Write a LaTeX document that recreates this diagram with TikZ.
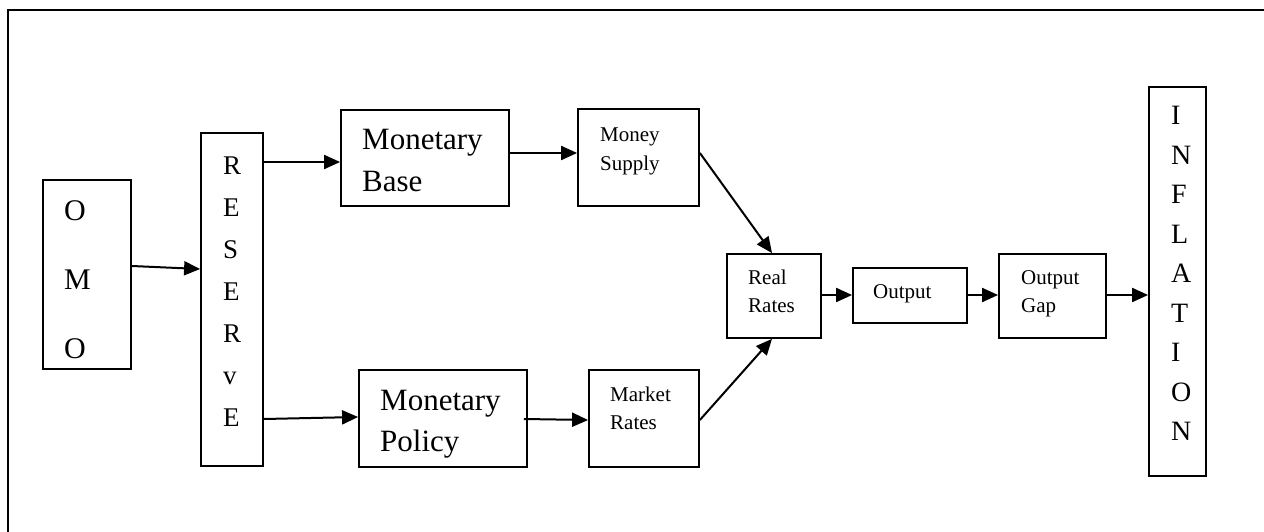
\documentclass[tikz,border=0pt]{standalone}
\usepackage{fontspec}
\setmainfont{Liberation Serif}
\usetikzlibrary{arrows.meta}
\tikzset{
  box/.style={draw, line width=1.8pt, inner sep=0pt},
  txt/.style={anchor=north west, inner sep=0pt, align=left},
  big/.style={txt, font=\fontsize{31}{41.7}\selectfont},
  small/.style={txt, font=\fontsize{21}{28.5}\selectfont},
  arr/.style={line width=2pt, -{Triangle[length=16pt,width=14pt]}}
}
\begin{document}
\begin{tikzpicture}[x=1pt,y=-1pt]
\useasboundingbox (0,0) rectangle (1264,532);
\begin{scope}
  \clip (0,0) rectangle (1264,532);
  \draw[line width=2pt] (8,10) rectangle (1275,545);
\end{scope}
% boxes
\node[box, minimum width=88pt, minimum height=189pt] (omo) at (87,274.5) {};
\node[box, minimum width=62pt, minimum height=333pt] (res) at (232,299.5) {};
\node[box, minimum width=168pt, minimum height=96pt] (mb) at (425,158) {};
\node[box, minimum width=121pt, minimum height=97pt] (ms) at (638.5,157.5) {};
\node[box, minimum width=168pt, minimum height=97pt] (mp) at (443,418.5) {};
\node[box, minimum width=110pt, minimum height=97pt] (mr) at (644,418.5) {};
\node[box, minimum width=94pt, minimum height=84pt] (rr) at (774,296) {};
\node[box, minimum width=114pt, minimum height=55pt] (out) at (910,295.5) {};
\node[box, minimum width=107pt, minimum height=84pt] (gap) at (1052.5,296) {};
\node[box, minimum width=57pt, minimum height=389pt] (inf) at (1177.5,281.5) {};
% texts
\node[txt, font=\fontsize{30}{69}\selectfont] (omo-t) at (64,200) {O\\M\\O};
\node[txt, font=\fontsize{27}{42.1}\selectfont] (res-t) at (223,156.5) {R\\E\\S\\E\\R\\v\\E};
\node[big] (mb-t) at (362,129.5) {Monetary\\Base};
\node[small] (ms-t) at (600,127.8) {Money\\Supply};
\node[big] (mp-t) at (380,389.5) {Monetary\\Policy};
\node[small] (mr-t) at (610,386.4) {Market\\Rates};
\node[small] (rr-t) at (748,269.7) {Real\\Rates};
\node[small] (out-t) at (873,283.9) {Output};
\node[small] (gap-t) at (1021,269.9) {Output\\Gap};
\node[txt, font=\fontsize{28}{39.5}\selectfont] (inf-t) at (1171,106) {I\\N\\F\\L\\A\\T\\I\\O\\N};
% connectors
\draw[arr] ([yshift=8.5pt]omo.east) -- ([yshift=30.5pt]res.west);
\draw[arr] ([yshift=137.5pt]res.east) -- ([yshift=-4pt]mb.west);
\draw[arr] ([yshift=-119.5pt]res.east) -- ([yshift=1.5pt]mp.west);
\draw[arr] ([yshift=5pt]mb.east) -- ([yshift=4.5pt]ms.west);
\draw[arr] ([xshift=-4pt,yshift=-0.5pt]mp.east) -- ([yshift=-1.5pt]mr.west);
\draw[arr] ([yshift=4.5pt]ms.east) -- ([xshift=-2pt]rr.north);
\draw[arr] ([yshift=-1.5pt]mr.east) -- ([xshift=-2pt]rr.south);
\draw[arr] ([yshift=1pt]rr.east) -- ([yshift=0.5pt]out.west);
\draw[arr] ([yshift=0.5pt]out.east) -- ([yshift=1pt]gap.west);
\draw[arr] ([yshift=1pt]gap.east) -- ([yshift=-13.5pt]inf.west);
\end{tikzpicture}
\end{document}
